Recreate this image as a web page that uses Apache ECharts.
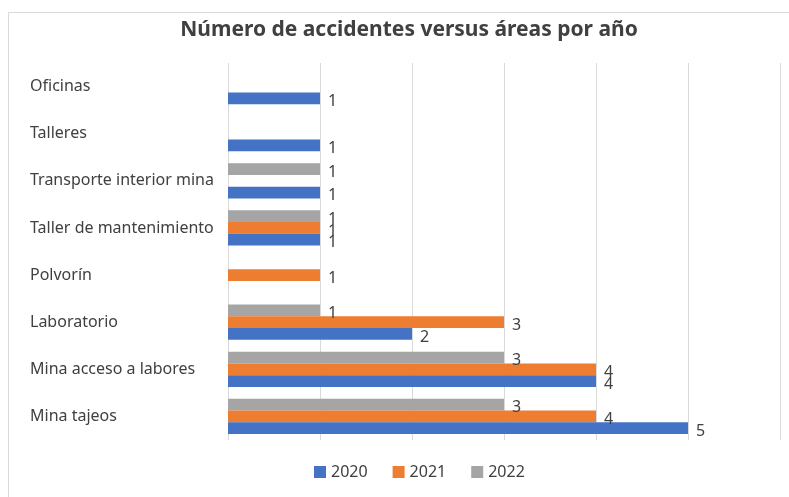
<!doctype html>
<html>
<head>
    <meta charset="utf-8">
    <title>Número de accidentes</title>
    <script type="text/javascript" src="https://cdn.jsdelivr.net/npm/echarts@6/dist/echarts.min.js"></script>
    <style>
        html, body { margin: 0; padding: 0; background: #fff; }
        #container { width: 789px; height: 497px; }
    </style>
</head>
<body>
<div id="container"></div>
<script type="text/javascript">
    // categorias de abajo hacia arriba
    var areas = ['Mina tajeos', 'Mina acceso a labores', 'Laboratorio', 'Polvorín',
        'Taller de mantenimiento', 'Transporte interior mina', 'Talleres', 'Oficinas'];
    var serie2020 = [5, 4, 2, null, 1, 1, 1, 1];
    var serie2021 = [4, 4, 3, 1, 1, null, null, null];
    var serie2022 = [3, 3, 1, null, 1, 1, null, null];
    var years = ['2020', '2021', '2022'];
    var colores = ['#4472C4', '#ED7D31', '#A5A5A5'];

    var fuente = 'Noto Sans';
    var dom = document.getElementById("container");
    var myChart = echarts.init(dom);

    var etiqueta = {
        show: true,
        position: 'right',
        distance: 8,
        offset: [0, 3],
        color: '#404040',
        fontSize: 16,
        fontFamily: fuente
    };

    function serie(nombre, datos, i) {
        return {
            name: nombre,
            type: 'bar',
            data: datos,
            barGap: '0%',
            barCategoryGap: '25%',
            itemStyle: { color: colores[i] },
            label: etiqueta
        };
    }

    var option = {
        animation: false,
        title: {
            text: 'Número de accidentes versus áreas por año',
            left: 404,
            textAlign: 'center',
            top: 15,
            textStyle: { fontSize: 21, fontWeight: 'bold', color: '#404040', fontFamily: fuente }
        },
        graphic: [{
            type: 'rect',
            shape: { x: 8.5, y: 12.5, width: 800, height: 500 },
            style: { fill: 'none', stroke: '#D9D9D9', lineWidth: 1 },
            silent: true
        }],
        legend: {
            data: years,
            bottom: 12,
            left: 309,
            itemWidth: 12,
            itemHeight: 12,
            itemGap: 25,
            icon: 'rect',
            textStyle: { fontSize: 16, color: '#404040', fontFamily: fuente }
        },
        grid: {
            left: 228,
            right: 9,
            top: 63,
            bottom: 57,
            containLabel: false
        },
        xAxis: {
            type: 'value',
            min: 0,
            max: 6,
            interval: 1,
            axisLabel: { show: false },
            axisLine: { show: false },
            axisTick: { show: false },
            splitLine: { lineStyle: { color: '#D9D9D9', width: 1 } }
        },
        yAxis: {
            type: 'category',
            data: areas,
            axisLine: { show: false },
            axisTick: { show: false },
            axisLabel: {
                align: 'left',
                margin: 198,
                fontSize: 16,
                color: '#404040',
                fontFamily: fuente,
                padding: [8, 0, 0, 0]
            }
        },
        // orden inverso para que 2020 quede abajo dentro de cada grupo
        series: [
            serie(years[2], serie2022, 2),
            serie(years[1], serie2021, 1),
            serie(years[0], serie2020, 0)
        ]
    };

    myChart.setOption(option, true);
</script>
</body>
</html>
